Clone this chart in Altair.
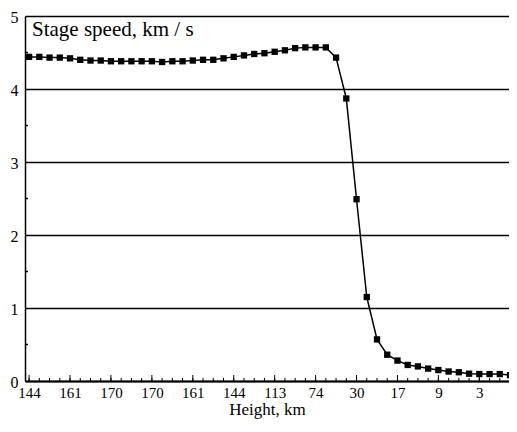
import altair as alt
import pandas as pd

# x tick labels (height, km) shown at every 4th sample
x_labels = ["144", "161", "170", "170", "161", "144", "113", "74", "30", "17", "9", "3"]
# stage speed, km/s, at each sample
speed = [4.44, 4.44, 4.43, 4.43, 4.42,
         4.40, 4.39, 4.39, 4.38, 4.38, 4.38, 4.38, 4.38, 4.37, 4.38, 4.38,
         4.39, 4.40, 4.40, 4.42, 4.44, 4.46, 4.48, 4.49, 4.51, 4.53, 4.56, 4.57, 4.57, 4.57,
         4.43,
         3.87, 2.49, 1.15, 0.57, 0.36, 0.28,
         0.22, 0.20, 0.17, 0.15, 0.13, 0.12, 0.10, 0.095, 0.095, 0.095, 0.08]
sample = list(range(len(speed)))
y_values = [0, 1, 2, 3, 4, 5]
y_minor = [0.5, 1.5, 2.5, 3.5, 4.5]
title_text = ["Stage speed, km / s"]

W, H = 484, 365
FONT = "Liberation Serif"

df = pd.DataFrame({"i": sample, "v": speed})
label_js = "[" + ",".join("'" + s + "'" for s in x_labels) + "]"

xscale = alt.Scale(domain=[-0.4, 46.9], nice=False, zero=False)
yscale = alt.Scale(domain=[0, 5], nice=False)

xaxis = alt.Axis(
    values=list(range(0, len(x_labels) * 4, 4)),
    labelExpr=label_js + "[round(datum.value/4)]",
    title="Height, km", ticks=False, grid=False,
    domainColor="black", domainWidth=2,
    labelFont=FONT, labelFontSize=15, labelColor="black", labelPadding=4,
    labelFlush=False, labelOverlap=False,
    titleFont=FONT, titleFontSize=17, titleFontWeight="normal",
    titleColor="black", titlePadding=1)
yaxis = alt.Axis(
    values=y_values, format="d", ticks=False, grid=True,
    gridColor="black", gridWidth=1.5, gridOpacity=1,
    domainColor="black", domainWidth=1.5,
    labelFont=FONT, labelFontSize=16, labelColor="black", labelPadding=7,
    labelOffset=1, labelFlush=False, labelOverlap=False, title=None)

X = lambda: alt.X("i:Q", scale=xscale, axis=xaxis, title="Height, km")
Y = lambda: alt.Y("v:Q", scale=yscale, axis=yaxis, title=None)

line = alt.Chart(df).mark_line(color="black", strokeWidth=1.5).encode(x=X(), y=Y())

points = alt.Chart(df).mark_square(color="black", size=40, opacity=1).encode(x=X(), y=Y())

minor_x = alt.Chart(pd.DataFrame({"i": sample})).mark_rule(color="black", strokeWidth=1).encode(
    x=X(), y=alt.value(H), y2=alt.value(H - 3),
)
major_x = alt.Chart(pd.DataFrame({"i": sample[::4]})).mark_rule(color="black", strokeWidth=1).encode(
    x=X(), y=alt.value(H), y2=alt.value(H - 6),
)
minor_y = alt.Chart(pd.DataFrame({"v": y_minor})).mark_rule(color="black", strokeWidth=1.5).encode(
    y=Y(), x=alt.value(0), x2=alt.value(3),
)

label = alt.Chart(pd.DataFrame({"t": title_text})).mark_text(
    align="left", baseline="alphabetic", font=FONT, fontSize=21, color="black"
).encode(text="t:N", x=alt.value(7), y=alt.value(20))

chart = alt.layer(line, minor_x, major_x, minor_y, points, label).properties(
    width=W, height=H,
    padding={"left": 17, "top": 8, "right": 0, "bottom": 38},
    autosize=alt.AutoSizeParams(type="none"),
).configure_view(stroke=None)

chart.save("out.html", embed_options={"renderer": "svg", "actions": False})
